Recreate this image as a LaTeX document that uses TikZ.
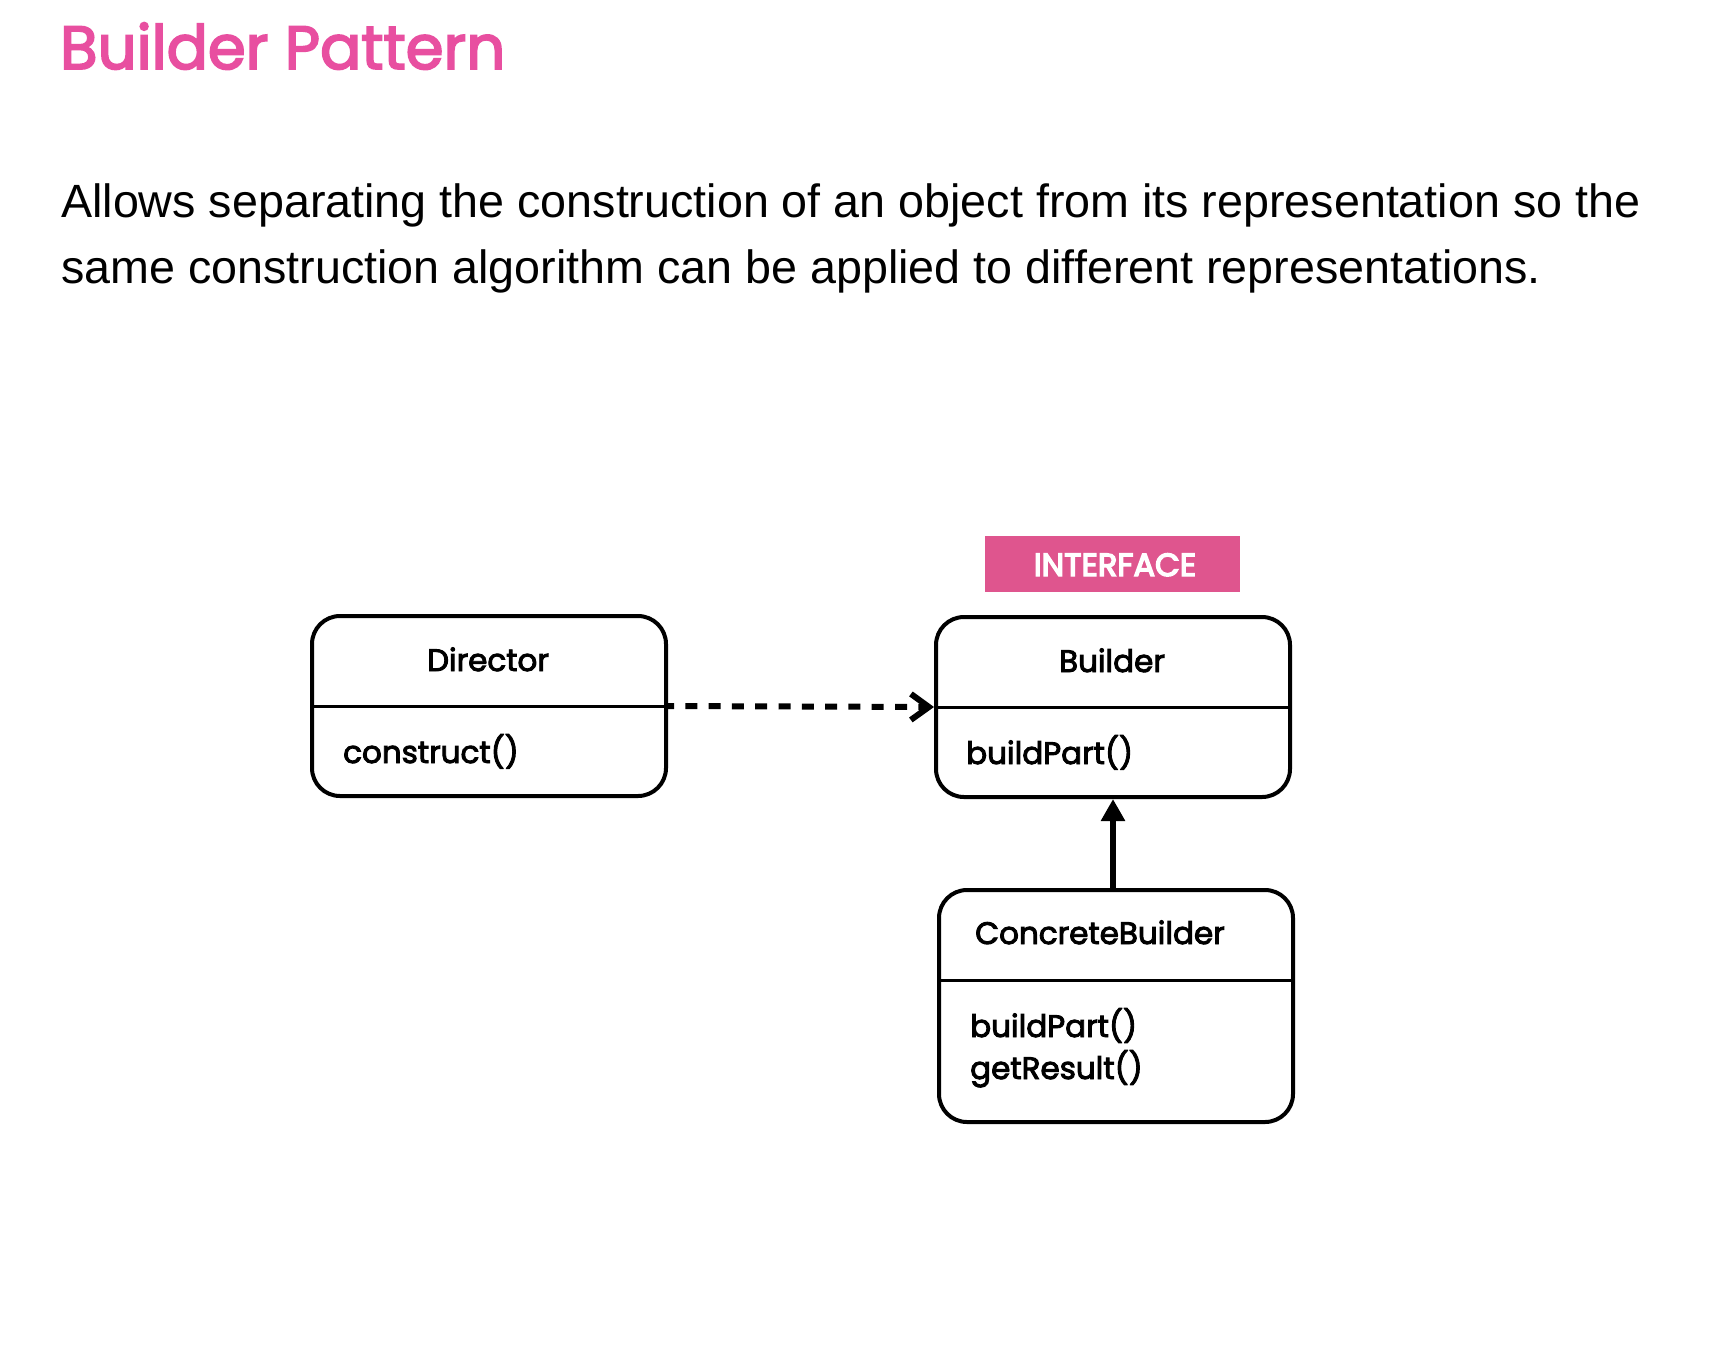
\documentclass[tikz,border=0pt]{standalone}
\usepackage{fontspec}
\usetikzlibrary{arrows.meta}
\newfontfamily\popmed[FakeBold=3]{Poppins}
\newfontfamily\popsemi[FakeBold=4.5]{Poppins}
\newfontfamily\bodyfont{Liberation Sans}
\definecolor{titlepink}{HTML}{E84FA0}
\definecolor{tagpink}{HTML}{DF558E}
\tikzset{
  classbox/.style={draw=black, line width=4pt, rounded corners=28pt, rectangle, minimum width=354pt, inner sep=0pt},
  divider/.style={draw=black, line width=3pt},
  boxtext/.style={inner sep=0pt, font=\popmed\fontsize{31}{36}\selectfont},
  dep/.style={line width=6pt, dash pattern=on 12pt off 11.3pt, dash phase=6pt, -{Straight Barb[length=18pt,width=26pt,line width=6pt]}},
  impl/.style={line width=6pt, -{Triangle[length=22pt,width=23pt]}},
}
\begin{document}
\begin{tikzpicture}[x=1pt,y=-1pt]
\path[use as bounding box, fill=white] (0,0) rectangle (1728,1358);
% title and description
\node[anchor=base west, inner sep=0pt, text=titlepink, font=\popmed\fontsize{61}{70}\selectfont] (title) at (60,69) {Builder Pattern};
\node[anchor=base west, inner sep=0pt, font=\bodyfont\fontsize{46.65}{66}\selectfont] (desc1) at (61,217) {Allows separating the construction of an object from its representation so the};
\node[anchor=base west, inner sep=0pt, font=\bodyfont\fontsize{46.65}{66}\selectfont] (desc2) at (61,283) {same construction algorithm can be applied to different representations.};
% boxes
\node[classbox, minimum height=180pt] (dir) at (489,706) {};
\node[classbox, minimum height=180pt] (bld) at (1113,707) {};
\node[classbox, minimum height=232pt] (cb) at (1116,1006) {};
\draw[divider] (dir.west) -- (dir.east);
\draw[divider] (bld.west) -- (bld.east);
\coordinate (cbl) at ([yshift=26pt]cb.west);
\coordinate (cbr) at ([yshift=26pt]cb.east);
\draw[divider] (cbl) -- (cbr);
% interface tag
\node[fill=tagpink, minimum width=255pt, minimum height=56pt, inner sep=0pt] (tag) at (1112.5,564) {};
\node[anchor=base, inner sep=0pt, text=white, font=\popsemi\fontsize{32}{36}\selectfont] (tagtext) at (1115,576) {INTERFACE};
% texts
\node[boxtext, anchor=base] (dirname) at (488,671) {Director};
\node[boxtext, anchor=base west] (dirop) at (343,763) {construct()};
\node[boxtext, anchor=base] (bldname) at (1112,672) {Builder};
\node[boxtext, anchor=base west] (bldop) at (966,764) {buildPart()};
\node[boxtext, anchor=base west] (cbname) at (975,944) {ConcreteBuilder};
\node[boxtext, anchor=base west] (cbop1) at (970,1037) {buildPart()};
\node[boxtext, anchor=base west] (cbop2) at (970,1079) {getResult()};
% connectors
\draw[dep] (dir.east) -- (bld.west);
\draw[impl] (cb.north -| bld.south) -- (bld.south);
\end{tikzpicture}
\end{document}
